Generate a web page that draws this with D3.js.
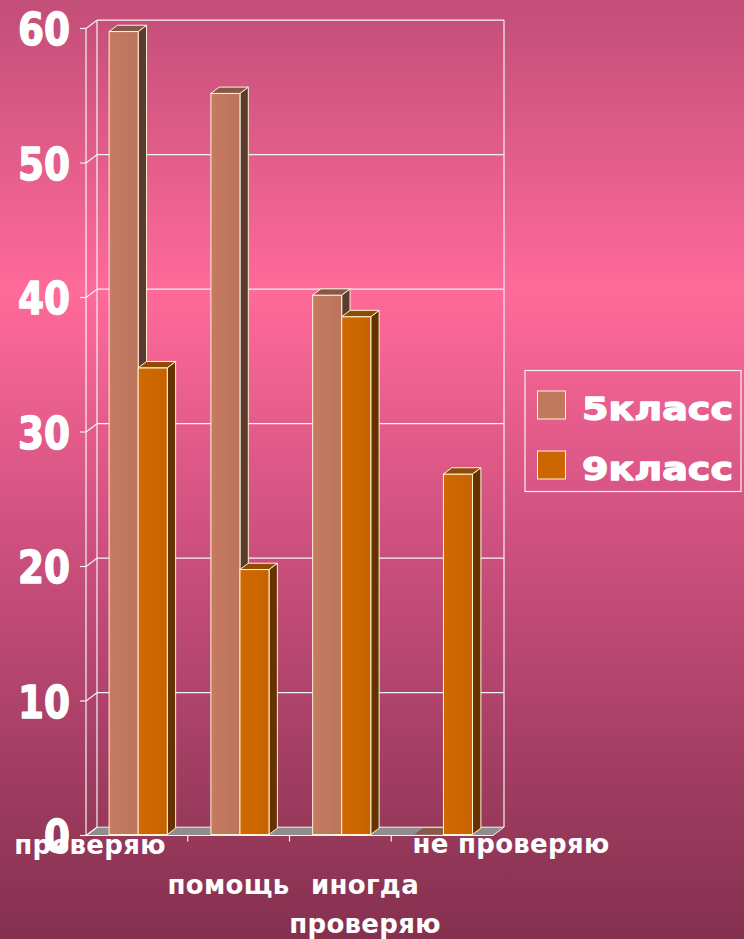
<!DOCTYPE html>
<html>
<head>
<meta charset="utf-8">
<script src="https://cdn.jsdelivr.net/npm/d3@7/dist/d3.min.js"></script>
<style>
  html, body { margin: 0; padding: 0; background: #c24f78; }
  svg { display: block; }
</style>
</head>
<body>
<script>
// ---- data ----
const categories = ["проверяю", "помощь", "иногда проверяю", "не проверяю"];
const seriesNames = ["5класс", "9класс"];
const values5 = [59.7, 55.1, 40.1, 0];
const values9 = [34.7, 19.7, 38.5, 26.8];
const yTicks = [0, 10, 20, 30, 40, 50, 60];

const W = 744, H = 939;
const svg = d3.select("body").append("svg").attr("width", W).attr("height", H);

// background gradient
const defs = svg.append("defs");
const bg = defs.append("linearGradient").attr("id", "bg").attr("x1", 0).attr("y1", 0).attr("x2", 0).attr("y2", 1);
[[0, "#c24e78"], [0.31, "#ff6a9a"], [0.6, "#c94e7c"], [0.85, "#9c3b5e"], [1, "#85304f"]]
  .forEach(([o, c]) => bg.append("stop").attr("offset", o).attr("stop-color", c));
svg.append("rect").attr("width", W).attr("height", H).attr("fill", "url(#bg)");

// subtle shading across bar fronts
const shade = (id, c) => {
  const lg = defs.append("linearGradient").attr("id", id).attr("x1", 0).attr("y1", 0).attr("x2", 1).attr("y2", 0);
  lg.append("stop").attr("offset", 0).attr("stop-color", d3.color(c).brighter(0.08));
  lg.append("stop").attr("offset", 0.5).attr("stop-color", c);
  lg.append("stop").attr("offset", 1).attr("stop-color", d3.color(c).darker(0.08));
};

// ---- 3D frame geometry ----
const DX = 11, DY = -8.3;           // depth vector front -> back
const x = d3.scaleBand(categories, [86, 493]).paddingInner(0).paddingOuter(0);
const xs = d3.scaleBand(seriesNames, [0, x.bandwidth()]).paddingInner(0).paddingOuter(0.75);
const y = d3.scaleLinear([0, 60], [835.5, 28.5]);   // front plane
const xL = x.range()[0], xR = x.range()[1];
const lineCol = "#f4f4f4";
const g = svg.append("g");

// floor
const y0 = y(0);
g.append("polygon")
  .attr("points", [[xL, y0], [xR, y0], [xR + DX, y0 + DY], [xL + DX, y0 + DY]].map(p => p.join(",")).join(" "))
  .attr("fill", "#8e8e8e").attr("stroke", lineCol).attr("stroke-width", 1);

// back wall gridlines + side wall diagonals + ticks
yTicks.forEach(t => {
  const yf = y(t), yb = y(t) + DY;
  if (t > 0) {
    g.append("line").attr("x1", xL + DX).attr("x2", xR + DX).attr("y1", yb).attr("y2", yb)
      .attr("stroke", lineCol).attr("stroke-width", 1.2);
  }
  g.append("line").attr("x1", xL).attr("y1", yf).attr("x2", xL + DX).attr("y2", yb)
    .attr("stroke", lineCol).attr("stroke-width", 1.2);
  g.append("line").attr("x1", xL - 6).attr("x2", xL).attr("y1", yf).attr("y2", yf)
    .attr("stroke", lineCol).attr("stroke-width", 1.2);
});
// vertical frame lines
[[xL, 0], [xL + DX, DY], [xR + DX, DY]].forEach(([xx, dy]) => {
  g.append("line").attr("x1", xx).attr("x2", xx).attr("y1", y(60) + dy).attr("y2", y(0) + dy)
    .attr("stroke", lineCol).attr("stroke-width", 1.2);
});
// category ticks
categories.slice(1).forEach(c => {
  const xx = x(c);
  g.append("line").attr("x1", xx).attr("x2", xx).attr("y1", y0).attr("y2", y0 + 6)
    .attr("stroke", lineCol).attr("stroke-width", 1.2);
});

// ---- bars ----
const colors = {
  "5класс": { front: "#c0785f", top: "#87574a", side: "#5b3a2f" },
  "9класс": { front: "#cc6600", top: "#8f4a06", side: "#663300" }
};
shade("f5", colors["5класс"].front);
shade("f9", colors["9класс"].front);
const frontFill = { "5класс": "url(#f5)", "9класс": "url(#f9)" };
const z0 = 0.12, z1 = 0.88;
const ox0 = z0 * DX, oy0 = z0 * DY, ox1 = z1 * DX, oy1 = z1 * DY;
const edge = "#fff3d6";
const pts = a => a.map(p => p.join(",")).join(" ");

categories.forEach((c, i) => {
  seriesNames.forEach((s, j) => {
    const v = j === 0 ? values5[i] : values9[i];
    const a = x(c) + xs(s), b = a + xs.bandwidth();
    const yt = y(v), yb0 = y(0);
    const col = colors[s];
    const bg_ = g.append("g");
    if (v > 0) {
      bg_.append("polygon").attr("points", pts([[b + ox0, yt + oy0], [b + ox1, yt + oy1], [b + ox1, yb0 + oy1], [b + ox0, yb0 + oy0]]))
        .attr("fill", col.side).attr("stroke", edge).attr("stroke-width", 1).attr("stroke-linejoin", "round");
      bg_.append("rect").attr("x", a + ox0).attr("y", yt + oy0).attr("width", b - a).attr("height", yb0 - yt)
        .attr("fill", frontFill[s]).attr("stroke", edge).attr("stroke-width", 1);
    }
    bg_.append("polygon").attr("points", pts([[a + ox0, yt + oy0], [b + ox0, yt + oy0], [b + ox1, yt + oy1], [a + ox1, yt + oy1]]))
      .attr("fill", col.top).attr("stroke", v > 0 ? edge : "none").attr("stroke-width", 1).attr("stroke-linejoin", "round");
  });
});

// ---- category labels (staggered like the original) ----
const labelPos = [
  { lines: ["проверяю"], cx: 90, base: 854 },
  { lines: ["помощь"], cx: 228.5, base: 894 },
  { lines: ["иногда", "проверяю"], cx: 365, base: 894 },
  { lines: ["не проверяю"], cx: 511, base: 853 }
];
categories.forEach((c, i) => {
  const lp = labelPos[i];
  lp.lines.forEach((ln, k) => {
    svg.append("text").attr("x", lp.cx).attr("y", lp.base + k * 39)
      .attr("text-anchor", "middle")
      .attr("font-family", "DejaVu Sans").attr("font-weight", "bold").attr("font-size", 26)
      .attr("letter-spacing", 0.3)
      .attr("fill", "#ffffff").text(ln);
  });
});

// ---- y axis labels ----
yTicks.forEach(t => {
  const s = String(t);
  svg.append("text").attr("x", 70).attr("y", y(t) + 16.5)
    .attr("text-anchor", "end")
    .attr("font-family", "DejaVu Sans").attr("font-weight", "bold").attr("font-size", 44)
    .attr("textLength", 26 * s.length).attr("lengthAdjust", "spacingAndGlyphs")
    .attr("fill", "#ffffff").attr("stroke", "#ffffff").attr("stroke-width", 1.4)
    .attr("stroke-linejoin", "round").text(s);
});

// ---- legend ----
const lg = svg.append("g");
lg.append("rect").attr("x", 525).attr("y", 370.5).attr("width", 216).attr("height", 121)
  .attr("fill", "none").attr("stroke", "#f4f4f4").attr("stroke-width", 1.2);
seriesNames.forEach((s, j) => {
  const yy = 391 + j * 60;
  lg.append("rect").attr("x", 537.5).attr("y", yy).attr("width", 28).attr("height", 28)
    .attr("fill", colors[s].front).attr("stroke", edge).attr("stroke-width", 1);
  lg.append("text").attr("x", 582).attr("y", yy + 28.5)
    .attr("font-family", "DejaVu Sans").attr("font-weight", "bold").attr("font-size", 31.5)
    .attr("textLength", 151).attr("lengthAdjust", "spacingAndGlyphs")
    .attr("fill", "#ffffff").attr("stroke", "#ffffff").attr("stroke-width", 1.3)
    .attr("stroke-linejoin", "round").text(s);
});
</script>
</body>
</html>
